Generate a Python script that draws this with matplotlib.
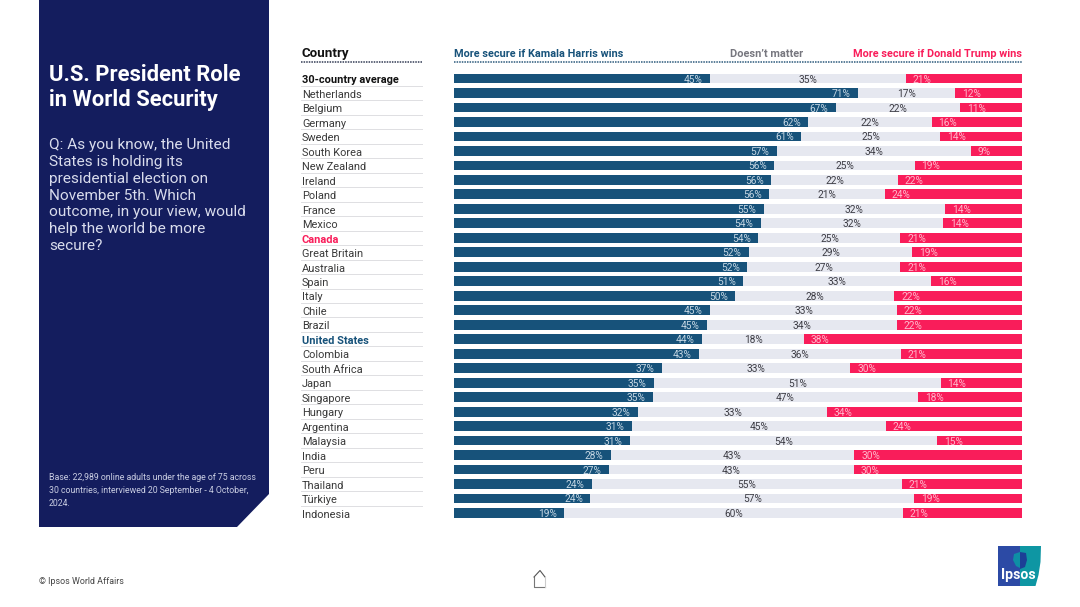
import matplotlib
matplotlib.use("Agg")
import matplotlib.pyplot as plt
from matplotlib.patches import Polygon
from matplotlib.transforms import blended_transform_factory as btf

plt.rcParams['font.family'] = ['Roboto', 'DejaVu Sans']

countries = ["30-country average", "Netherlands", "Belgium", "Germany", "Sweden", "South Korea",
             "New Zealand", "Ireland", "Poland", "France", "Mexico", "Canada", "Great Britain",
             "Australia", "Spain", "Italy", "Chile", "Brazil", "United States", "Colombia",
             "South Africa", "Japan", "Singapore", "Hungary", "Argentina", "Malaysia", "India",
             "Peru", "Thailand", "Türkiye", "Indonesia"]
# printed labels
harris = [45, 71, 67, 62, 61, 57, 56, 56, 56, 55, 54, 54, 52, 52, 51, 50, 45, 45, 44, 43, 37, 35, 35, 32, 31, 31, 28, 27, 24, 24, 19]
neutral = [35, 17, 22, 22, 25, 34, 25, 22, 21, 32, 32, 25, 29, 27, 33, 28, 33, 34, 18, 36, 33, 51, 47, 33, 45, 54, 43, 43, 55, 57, 60]
trump = [21, 12, 11, 16, 14, 9, 19, 22, 24, 14, 14, 21, 19, 21, 16, 22, 22, 22, 38, 21, 30, 14, 18, 34, 24, 15, 30, 30, 21, 19, 21]
# bar lengths (unrounded shares)
harris_share = [45.1, 71.1, 67.2, 62.4, 61.1, 56.8, 56.4, 55.8, 55.5, 54.5, 54.0, 53.6, 51.9, 51.6, 50.9, 49.5,
                45.1, 44.5, 43.7, 43.1, 36.6, 35.2, 35.0, 32.4, 31.3, 31.0, 27.6, 27.3, 24.3, 24.0, 19.4]
trump_share = [20.5, 11.8, 10.9, 15.9, 14.4, 9.0, 18.9, 21.8, 24.1, 13.5, 13.9, 21.4, 19.3, 21.4, 16.0, 22.5,
               22.0, 22.0, 38.4, 21.3, 30.2, 14.3, 18.3, 34.3, 24.0, 15.0, 29.5, 29.6, 21.1, 19.0, 21.0]

BLUE, GREY, PINK = "#17527a", "#e6e8f0", "#f91d5a"
NAVY = "#141d5e"
W, H = 1080, 607

fig = plt.figure(figsize=(10.8, 6.07), dpi=100, facecolor="white")
bg = fig.add_axes([0, 0, 1, 1])
bg.set_xlim(0, W); bg.set_ylim(H, 0); bg.axis("off")

# left panel
bg.add_patch(Polygon([(39, 0), (269, 0), (269, 494), (237, 527), (39, 527)], fc=NAVY, ec="none"))
bg.text(49, 87.5, "U.S. President Role\nin World Security", color="white", fontsize=15.8, fontweight="bold",
        va="center", ha="left", linespacing=1.14)
bg.text(49, 195.5, "Q: As you know, the United\nStates is holding its\npresidential election on\nNovember 5th. Which\noutcome, in your view, would\nhelp the world be more\nsecure?",
        color="#d9dcec", fontsize=11.1, va="center", ha="left", linespacing=1.25)
bg.text(49, 490.5, "Base: 22,989 online adults under the age of 75 across\n30 countries, interviewed 20 September - 4 October,\n2024.",
        color="#c9cde2", fontsize=6.3, va="center", ha="left", linespacing=1.6)
bg.text(39, 581, "© Ipsos World Affairs", color="#444444", fontsize=6.4, va="center", ha="left")

# headers
bg.text(301, 53, "Country", color="#111111", fontsize=9.6, fontweight="bold", va="center", ha="left")
bg.text(454, 54, "More secure if Kamala Harris wins", color=BLUE, fontsize=7.8, fontweight="bold", va="center", ha="left")
bg.text(767, 54, "Doesn’t matter", color="#77777f", fontsize=7.9, fontweight="bold", va="center", ha="center")
bg.text(1022, 54, "More secure if Donald Trump wins", color=PINK, fontsize=7.85, fontweight="bold", va="center", ha="right")
bg.plot([301, 422], [61.5, 61.5], color="#333c55", lw=1.1, ls=(0, (1, 0.7)))
bg.plot([454, 1022], [61.5, 61.5], color="#2c5a7c", lw=1.1, ls=(0, (1, 0.7)))

# home icon
bg.plot([534, 534, 540, 545], [577, 587, 587, 587], color="#777777", lw=0.8)
bg.plot([534, 540, 545], [577, 570.5, 577], color="#555555", lw=0.8)
bg.plot([545, 545], [577, 587], color="#cccccc", lw=0.8)

# logo
bg.add_patch(Polygon([(998, 546), (1020, 546), (1020, 586), (998, 586)], fc="#2c4aa5", ec="none"))
bg.add_patch(Polygon([(1020, 546), (1041, 546), (1040.5, 562), (1038.5, 575), (1035.5, 586), (1020, 586)], fc="#0e96a3", ec="none"))
bg.add_patch(Polygon([(1020, 552), (1014, 554), (1013, 560), (1016, 566), (1020, 568)], fc="#0e8fa5", ec="none"))
bg.add_patch(Polygon([(1020, 552), (1026, 553), (1027, 560), (1025, 567), (1020, 569)], fc="#1c3f96", ec="none"))
bg.text(1018.5, 575, "Ipsos", color="white", fontsize=10.2, fontweight="bold", va="center", ha="center")

# chart
ax = fig.add_axes([454 / W, 1 - 520.2 / H, (1022 - 454) / W, (520.2 - 71.3) / H])
ax.set_xlim(0, 100)
ax.set_ylim(len(countries) - 0.5, -0.5)
ax.axis("off")
tr = btf(fig.transFigure, ax.transData)

for i, c in enumerate(countries):
    h, t = harris_share[i], trump_share[i]
    ax.barh(i, h, height=0.68, color=BLUE, lw=0)
    ax.barh(i, 100 - h - t, left=h, height=0.68, color=GREY, lw=0)
    ax.barh(i, t, left=100 - t, height=0.68, color=PINK, lw=0)
    yl = i + 0.07
    ax.text(h - 1.3, yl, f"{harris[i]}%", color="#c4d6e3", fontsize=7.3, ha="right", va="center")
    ax.text(h + (100 - h - t) / 2, yl, f"{neutral[i]}%", color="#3d3d45", fontsize=7.3, ha="center", va="center")
    ax.text(100 - t + 1.2, yl, f"{trump[i]}%", color="#ffb7cb", fontsize=7.3, ha="left", va="center")
    color, weight = "#3a3a3a", "normal"
    if c == "30-country average":
        color, weight = "#111111", "bold"
    elif c == "Canada":
        color, weight = PINK, "bold"
    elif c == "United States":
        color, weight = BLUE, "bold"
    ax.text(302 / W, i + 0.12, c, transform=tr, color=color, fontweight=weight, fontsize=7.9, ha="left", va="center")
    if i < len(countries) - 1:
        ax.plot([301 / W, 422 / W], [i + 0.5, i + 0.5], transform=tr, color="#dedee2", lw=0.7, clip_on=False)

fig.savefig("out.png", dpi=100)
